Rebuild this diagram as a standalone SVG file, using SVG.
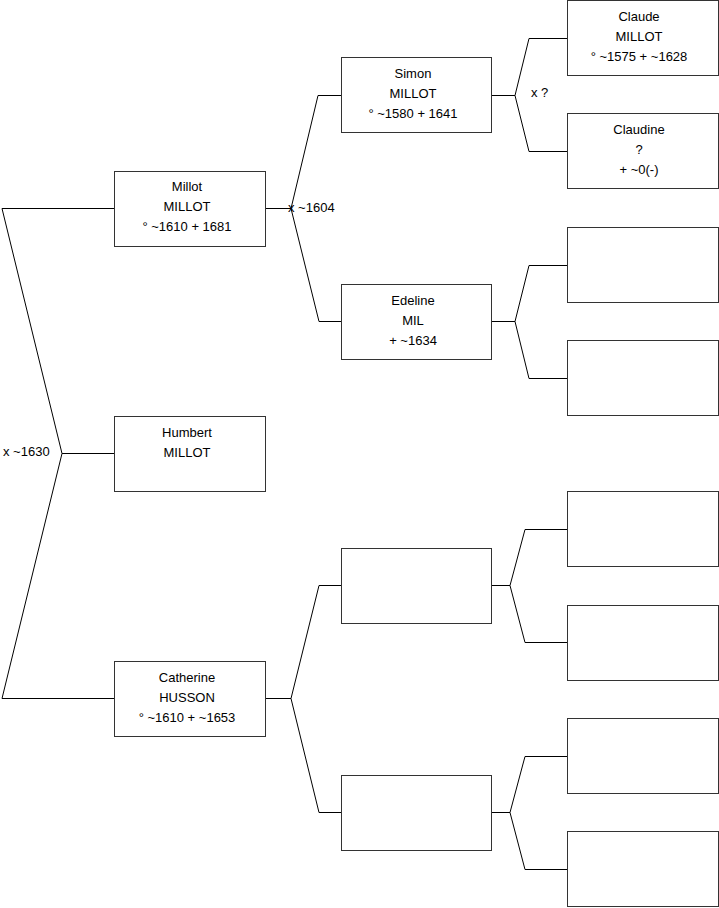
<svg xmlns="http://www.w3.org/2000/svg" width="719" height="908" viewBox="0 0 719 908">
<style>
.box{fill:#fff;stroke:#333;stroke-width:1}
.ln{fill:none;stroke:#000;stroke-width:1}
text{font-family:"Liberation Sans",Arial,sans-serif;font-size:13px;fill:#000}
.c{text-anchor:middle}
</style>
<rect width="719" height="908" fill="#fff"/>
<g id="connectors">
<polyline class="ln" points="114,208.5 2,208.5 62,453.5 2,698.5 114,698.5"/>
<polyline class="ln" points="62,453.5 114,453.5"/>
<polyline class="ln" points="265,208.5 291,208.5"/>
<polyline class="ln" points="341,95.5 318,95.5 291,208.5 319,321.5 341,321.5"/>
<polyline class="ln" points="491,95.5 515,95.5"/>
<polyline class="ln" points="567,38.5 529,38.5 515,95.5 529,151.5 567,151.5"/>
<polyline class="ln" points="491,321.5 515,321.5"/>
<polyline class="ln" points="567,265.5 529,265.5 515,321.5 529,378.5 567,378.5"/>
<polyline class="ln" points="265,698.5 291,698.5"/>
<polyline class="ln" points="341,585.5 319,585.5 291,698.5 319,812.5 341,812.5"/>
<polyline class="ln" points="491,585.5 510,585.5"/>
<polyline class="ln" points="567,529.5 525,529.5 510,585.5 525,642.5 567,642.5"/>
<polyline class="ln" points="491,812.5 510,812.5"/>
<polyline class="ln" points="567,756.5 525,756.5 510,812.5 525,869.5 567,869.5"/>
<text x="3" y="456">x ~1630</text>
<text x="288" y="212">x ~1604</text>
<text x="531" y="97">x ?</text>
</g>
<g id="millot">
<rect class="box" x="114.5" y="171.5" width="151" height="75"/>
<text class="c" x="187" y="191">Millot</text>
<text class="c" x="187" y="211">MILLOT</text>
<text class="c" x="187" y="231">° ~1610 + 1681</text>
</g>
<g id="humbert">
<rect class="box" x="114.5" y="416.5" width="151" height="75"/>
<text class="c" x="187" y="437">Humbert</text>
<text class="c" x="187" y="457">MILLOT</text>
</g>
<g id="catherine">
<rect class="box" x="114.5" y="661.5" width="151" height="75"/>
<text class="c" x="187" y="682">Catherine</text>
<text class="c" x="187" y="702">HUSSON</text>
<text class="c" x="187" y="722">° ~1610 + ~1653</text>
</g>
<g id="simon">
<rect class="box" x="341.5" y="57.5" width="150" height="75"/>
<text class="c" x="413" y="78">Simon</text>
<text class="c" x="413" y="98">MILLOT</text>
<text class="c" x="413" y="118">° ~1580 + 1641</text>
</g>
<g id="edeline">
<rect class="box" x="341.5" y="284.5" width="150" height="75"/>
<text class="c" x="413" y="305">Edeline</text>
<text class="c" x="413" y="325">MIL</text>
<text class="c" x="413" y="345">+ ~1634</text>
</g>
<g id="mid3"><rect class="box" x="341.5" y="548.5" width="150" height="75"/></g>
<g id="mid4"><rect class="box" x="341.5" y="775.5" width="150" height="75"/></g>
<g id="claude">
<rect class="box" x="567.5" y="0.5" width="151" height="75"/>
<text class="c" x="639" y="21">Claude</text>
<text class="c" x="639" y="41">MILLOT</text>
<text class="c" x="639" y="61">° ~1575 + ~1628</text>
</g>
<g id="claudine">
<rect class="box" x="567.5" y="113.5" width="151" height="75"/>
<text class="c" x="639" y="134">Claudine</text>
<text class="c" x="639" y="154">?</text>
<text class="c" x="639" y="174">+ ~0(-)</text>
</g>
<g id="r3"><rect class="box" x="567.5" y="227.5" width="151" height="75"/></g>
<g id="r4"><rect class="box" x="567.5" y="340.5" width="151" height="75"/></g>
<g id="r5"><rect class="box" x="567.5" y="491.5" width="151" height="75"/></g>
<g id="r6"><rect class="box" x="567.5" y="605.5" width="151" height="75"/></g>
<g id="r7"><rect class="box" x="567.5" y="718.5" width="151" height="75"/></g>
<g id="r8"><rect class="box" x="567.5" y="831.5" width="151" height="75"/></g>
</svg>
